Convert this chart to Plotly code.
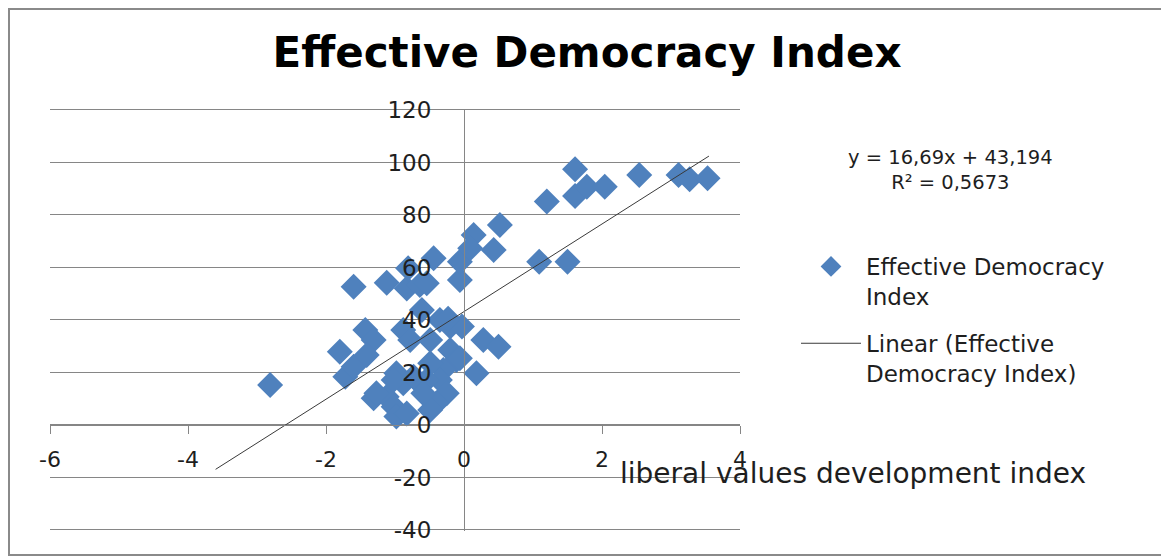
import plotly.graph_objects as go

# ---- data ----
liberal_values = [
    -2.81, -1.60, -1.12, -1.80, -1.72, -1.60, -1.43, -1.31, -1.41, -1.31,
    -1.12, -0.98, -1.02, -0.98, -0.83, -0.88, -0.78, -0.83, -0.81, -0.64,
    -0.54, -0.44, -0.61, -0.49, -0.35, -0.20, -0.03, -0.20, -0.11, -0.30,
    -0.35, -0.25, -0.40, -0.49, -0.69, -0.54, -0.59, -0.88, 0.18, 0.28,
    0.50, -0.06, -0.06, 0.14, 0.09, 0.43, 0.52, 1.61, 1.20, 1.61,
    1.78, 2.04, 2.54, 3.11, 3.27, 3.53, 1.09, 1.50, -0.23, -0.49,
    -1.27, -0.73, -1.02, -0.06,
]
effective_democracy = [
    15.2, 52.7, 54.2, 27.9, 18.4, 22.2, 36.2, 32.4, 26.7, 10.2,
    10.8, 19.7, 7.0, 3.2, 4.4, 36.2, 32.4, 52.0, 59.7, 53.3,
    54.0, 63.5, 43.8, 32.4, 40.0, 37.5, 37.5, 28.6, 24.8, 21.0,
    17.1, 12.1, 8.3, 5.7, 17.1, 17.1, 12.1, 15.9, 19.7, 32.4,
    29.8, 55.2, 62.2, 72.4, 67.3, 66.7, 76.2, 97.4, 85.1, 87.2,
    90.8, 90.8, 95.2, 95.2, 93.6, 94.0, 62.2, 62.2, 40.5, 23.5,
    12.1, 18.4, 17.1, 25.4,
]
trend_slope = 16.69
trend_intercept = 43.194
trend_r2 = 0.5673
trend_x = [-3.6, 3.55]
trend_y = [trend_slope * v + trend_intercept for v in trend_x]

x_ticks = [-6, -4, -2, 0, 2, 4]
y_ticks = [-40, -20, 0, 20, 40, 60, 80, 100, 120]

# page is offset by the browser's 8px body margin
OFF = 8
W, H = 1169 - OFF, 558 - OFF


def px(xpage):
    return (xpage - OFF) / W


def py(ypage):
    return 1 - (ypage - OFF) / H


FONT = "DejaVu Sans"
GRID = "#868686"
TXT = "#1e1e1e"

# y range padded a hair so the 120 and -40 gridlines are drawn
y_lo, y_hi = -40.5, 120.5
ppu = (530 - 110) / 160.0  # pixels per y unit
y_top_px = 110 - (y_hi - 120) * ppu
y_bot_px = 530 + (-40 - y_lo) * ppu

fig = go.Figure()
fig.add_trace(go.Scatter(
    x=liberal_values, y=effective_democracy, mode="markers",
    name="Effective Democracy<br>Index", legendgroup="a",
    marker=dict(symbol="diamond", size=20, color="#4F81BD", line=dict(width=0)),
))
fig.add_trace(go.Scatter(
    x=trend_x, y=trend_y, mode="lines",
    name="Linear (Effective<br>Democracy Index)", legendgroup="b",
    line=dict(color="#3a3a3a", width=1),
))


def fmt(v, d):
    return f"{v:.{d}f}".replace(".", ",")


fig.update_layout(
    width=W, height=H,
    margin=dict(l=0, r=0, t=0, b=0, autoexpand=False),
    paper_bgcolor="white", plot_bgcolor="white",
    font=dict(family=FONT, color=TXT),
    title=dict(text="Effective Democracy Index", x=px(587), xanchor="center",
               y=py(52), yanchor="middle",
               font=dict(family=FONT, size=42, color="black", weight="bold")),
    xaxis=dict(
        range=[-6, 4], domain=[px(50), px(740)], anchor="free",
        position=py(425), tickvals=x_ticks, ticktext=[str(t) for t in x_ticks],
        showgrid=False, zeroline=False, showline=True, linecolor=GRID, linewidth=1,
        ticks="outside", ticklen=8, tickcolor=GRID, ticklabelstandoff=7,
        tickfont=dict(family=FONT, size=22, color=TXT),
    ),
    yaxis=dict(
        range=[y_lo, y_hi], domain=[py(y_bot_px), py(y_top_px)], anchor="free",
        position=px(464), tickvals=y_ticks, ticktext=[str(t) for t in y_ticks],
        showgrid=True, gridcolor=GRID, gridwidth=1, zeroline=False,
        showline=True, linecolor=GRID, linewidth=1, ticks="",
        ticklabelstandoff=28,
        tickfont=dict(family=FONT, size=23, color=TXT),
    ),
    legend=dict(
        x=px(796), y=py(245), xanchor="left", yanchor="top",
        font=dict(family=FONT, size=23, color=TXT),
        valign="top", traceorder="grouped", tracegroupgap=14,
        itemwidth=60, bgcolor="rgba(0,0,0,0)",
    ),
    showlegend=True,
)

fig.add_annotation(
    xref="paper", yref="paper", x=px(950), y=py(170),
    text=f"y = {fmt(trend_slope, 2)}x + {fmt(trend_intercept, 3)}<br>R² = {fmt(trend_r2, 4)}",
    showarrow=False, align="center", xanchor="center", yanchor="middle",
    font=dict(family=FONT, size=19.5, color=TXT),
)
fig.add_annotation(
    xref="paper", yref="paper", x=px(618), y=py(473),
    text="liberal values development index",
    showarrow=False, xanchor="left", yanchor="middle",
    font=dict(family=FONT, size=28, color=TXT),
)
fig.add_shape(type="rect", xref="paper", yref="paper",
              x0=1 / W, x1=px(1165), y0=py(555), y1=1 - 1 / H,
              line=dict(color="#8a8a8a", width=2), layer="above")

fig.write_html("out.html")
